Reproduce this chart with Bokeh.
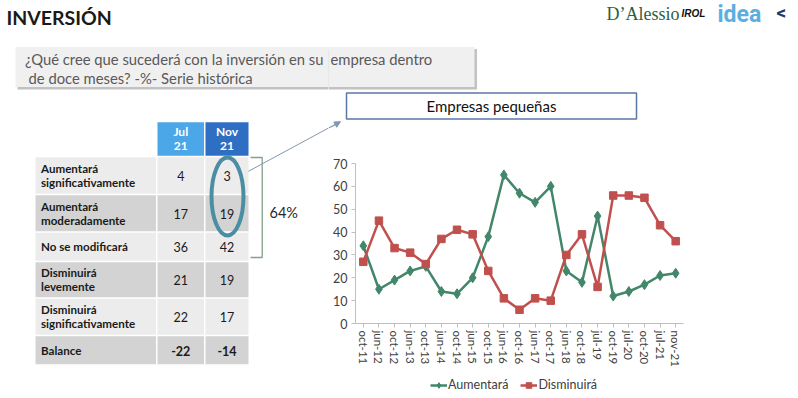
from bokeh.plotting import figure
from bokeh.layouts import row, column
from bokeh.models import Range1d, FactorRange, FixedTicker, Legend, LegendItem, Arrow, NormalHead
from bokeh.core.properties import value
from bokeh.embed import file_html
from bokeh.resources import INLINE

# ---------------- data ----------------
periods = ["oct-11", "jun-12", "oct-12", "jun-13", "oct-13", "jun-14", "oct-14",
           "jun-15", "oct-15", "jun-16", "oct-16", "jun-17", "oct-17", "jun-18",
           "oct-18", "jul-19", "oct-19", "jul-20", "oct-20", "jul-21", "nov-21"]
aumentara = [34, 15, 19, 23, 25, 14, 13, 20, 38, 65, 57, 53, 60, 23, 18, 47, 12, 14, 17, 21, 22]
disminuira = [27, 45, 33, 31, 26, 37, 41, 39, 23, 11, 6, 11, 10, 30, 39, 16, 56, 56, 55, 43, 36]
y_ticks = [0, 10, 20, 30, 40, 50, 60, 70]

table_rows = ["Aumentará\nsignificativamente", "Aumentará\nmoderadamente", "No se modificará",
              "Disminuirá\nlevemente", "Disminuirá\nsignificativamente", "Balance"]
table_cols = ["Jul\n21", "Nov\n21"]
jul_21 = [4, 17, 36, 21, 22, -22]
nov_21 = [3, 19, 42, 19, 17, -14]
bracket_label = "64%"

title_text = "INVERSIÓN"
question_l1a = "¿Qué cree que sucederá con la inversión en su"
question_l1b = "empresa dentro"
question_l2 = "de doce meses? -%- Serie histórica"
chart_title = "Empresas pequeñas"
series_names = ["Aumentará", "Disminuirá"]

# ---------------- styles ----------------
FONT = "Lato"
GREEN = "#43876b"
RED = "#c0504d"
TXT = "#1a1a1a"
ARROW = "#8497b0"


def canvas(x0, x1, y0, y1):
    f = figure(width=x1 - x0, height=y1 - y0,
               x_range=Range1d(x0, x1), y_range=Range1d(y1, y0),
               x_axis_type=None, y_axis_type=None,
               toolbar_location=None, output_backend="svg",
               min_border=0, outline_line_color=None)
    f.grid.visible = False
    f.background_fill_color = "white"
    f.border_fill_color = "white"
    return f


def txt(f, x, y, s, size, color=TXT, style="normal", align="left",
        baseline="middle", font=FONT):
    f.text(x=x if isinstance(x, list) else [x],
           y=y if isinstance(y, list) else [y],
           text=s if isinstance(s, list) else [s],
           text_font=value(font), text_font_size=value(f"{size}px"),
           text_color=color, text_font_style=value(style),
           text_align=value(align), text_baseline=value(baseline))


left = canvas(0, 328, 0, 398)
topr = canvas(328, 798, 0, 140)

# ---------------- question box (spans both canvases) ----------------
for f in (left, topr):
    f.quad(left=[17], right=[476.5], top=[48.5], bottom=[89], fill_color="#a8a8a8",
           fill_alpha=0.7, line_color=None)
    f.quad(left=[15], right=[474], top=[46.5], bottom=[86.5], fill_color="#f0f0f0",
           line_color=None)
    f.segment(x0=[243.3], y0=[173.3], x1=[339], y1=[121.6], line_color=ARROW, line_width=1)

topr.add_layout(Arrow(x_start=330, y_start=126.8, x_end=340, y_end=121.2,
                      line_color=ARROW, line_width=1,
                      end=NormalHead(size=6, fill_color=ARROW, line_color=ARROW)))

txt(left, 6, 17, title_text, 19.5, style="bold")
txt(left, 323, 58.5, question_l1a, 14.8, color="#595959", align="right")
txt(topr, 330, 58.5, question_l1b, 14.8, color="#595959")
txt(left, 28, 77.5, question_l2, 14.8, color="#595959")

# logos
txt(topr, 606, 13, "D’Alessio", 18, color="#2d5e44", baseline="alphabetic", font="Liberation Serif")
txt(topr, 681, 12.5, "IROL", 10, color="#111111", style="bold italic", baseline="alphabetic", font="Liberation Sans")
txt(topr, 717, 13.5, "idea", 23, color="#5aaee0", style="bold", baseline="alphabetic", font="Roboto")
txt(topr, 776, 12, "<", 19, color="#253a66", style="bold", baseline="middle", font="Roboto")

# chart title box
topr.quad(left=[346], right=[636], top=[92.5], bottom=[118.5], fill_color="white",
          line_color="#5b77a8", line_width=1.5)
txt(topr, 491, 105.5, chart_title, 15, color="#111111", align="center")

# ---------------- table ----------------
row_edges = [156, 194, 231.5, 261, 297.5, 335, 364.5]
col_spans = [(35, 155.5), (157, 203.5), (205, 248)]
hdr_fill = ["#4ba7e7", "#2f6fc3"]
mids = [(row_edges[i] + row_edges[i + 1]) / 2 for i in range(len(table_rows))]

for j, lab in enumerate(table_cols):
    l, r = col_spans[j + 1]
    left.quad(left=[l], right=[r], top=[121.7], bottom=[155.2], fill_color=hdr_fill[j], line_color=None)
    lines = lab.split("\n")
    txt(left, [(l + r) / 2] * len(lines), [130.5, 145.5], lines, 12, color="white",
        style="bold", align="center")

for i, lab in enumerate(table_rows):
    fill = "#ececec" if i % 2 == 0 else "#d3d3d3"
    top, bot = row_edges[i] + 0.8, row_edges[i + 1] - 0.8
    for (l, r) in col_spans:
        left.quad(left=[l], right=[r], top=[top], bottom=[bot], fill_color=fill, line_color=None)
    lines = lab.split("\n")
    n = len(lines)
    ys = [mids[i] + (k - (n - 1) / 2) * 14.4 for k in range(n)]
    txt(left, [40.5] * n, ys, lines, 11.6, style="bold")

bal_style = ["normal"] * (len(table_rows) - 1) + ["bold"]
for j, vals in enumerate([jul_21, nov_21]):
    l, r = col_spans[j + 1]
    for i, v in enumerate(vals):
        txt(left, (l + r) / 2, mids[i] + 0.5, str(v), 12.5, style=bal_style[i], align="center")

# highlight ellipse
left.ellipse(x=[227], y=[196], width=[32], height=[78], fill_color=None,
             line_color="#4b8ea4", line_width=4)

# bracket
left.line(x=[250, 261.7, 261.7, 250], y=[157, 157, 257, 257], line_color="#82a18e", line_width=1.3)
txt(left, 269, 212, bracket_label, 14.5, color="#262626")

# ---------------- line chart ----------------
chart = figure(width=470, height=233,
               x_range=FactorRange(factors=periods), y_range=Range1d(0, 70),
               toolbar_location=None, output_backend="svg",
               min_border_left=27, min_border_right=115, min_border_top=23, min_border_bottom=50,
               outline_line_color=None)
chart.grid.visible = False
chart.background_fill_color = "white"
chart.border_fill_color = "white"

for ax in (chart.xaxis[0], chart.yaxis[0]):
    ax.axis_line_color = "#bfbfbf"
    ax.major_tick_line_color = "#bfbfbf"
    ax.minor_tick_line_color = None
    ax.major_tick_in = 0
    ax.major_tick_out = 4
    ax.major_label_text_font = FONT
    ax.major_label_text_color = "#404040"

chart.yaxis.ticker = FixedTicker(ticks=y_ticks)
chart.yaxis.major_label_text_font_size = "12.5px"
chart.yaxis.major_label_standoff = 4
chart.xaxis.major_label_orientation = "vertical"
chart.xaxis.major_label_text_font_size = "11.5px"
chart.xaxis.major_label_standoff = 3

series_styles = [dict(color=GREEN, marker="diamond", size=10),
                 dict(color=RED, marker="square", size=7.5)]
for vals, st in zip([aumentara, disminuira], series_styles):
    chart.line(periods, vals, line_color=st["color"], line_width=2.5)
    chart.scatter(periods, vals, marker=st["marker"], size=st["size"],
                  fill_color=st["color"], line_color=st["color"])

# ---------------- legend strip under the chart ----------------
# the same series are drawn here outside the visible y window, only to feed the legend glyphs
legfig = figure(width=470, height=25, x_range=FactorRange(factors=periods), y_range=Range1d(100, 101),
                x_axis_type=None, y_axis_type=None, toolbar_location=None,
                output_backend="svg", min_border=0, outline_line_color=None)
legfig.grid.visible = False
legfig.background_fill_color = "white"
legfig.border_fill_color = "white"

items = []
for name, vals, st in zip(series_names, [aumentara, disminuira], series_styles):
    lr = legfig.line(periods, vals, line_color=st["color"], line_width=2.5)
    sr = legfig.scatter(periods, vals, marker=st["marker"], size=st["size"] * 0.8,
                        fill_color=st["color"], line_color=st["color"])
    items.append(LegendItem(label=name, renderers=[lr, sr]))

legend = Legend(items=items, location=(102, 6), orientation="horizontal",
                padding=0, margin=0, spacing=12, glyph_width=17, glyph_height=14,
                label_height=14, label_standoff=1, label_text_font=FONT,
                label_text_font_size="12.5px", label_text_baseline="middle",
                label_text_color="#404040", border_line_color=None, background_fill_alpha=0)
legfig.add_layout(legend)

layout = row(left, column(topr, row(chart, spacing=0), row(legfig, spacing=0), spacing=0), spacing=0)

open("out.html", "w").write(file_html(layout, INLINE))
